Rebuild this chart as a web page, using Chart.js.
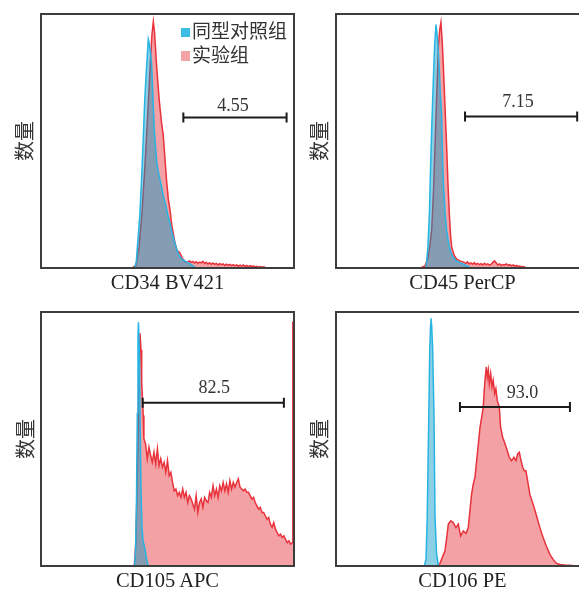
<!DOCTYPE html>
<html><head><meta charset="utf-8">
<script src="https://cdn.jsdelivr.net/npm/chart.js@4"></script>
<style>
html,body{margin:0;padding:0;background:#fff;}
body{width:579px;height:590px;overflow:hidden;position:relative;}
canvas{position:absolute;}
.xl{position:absolute;font-family:"Liberation Serif","Times New Roman",serif;font-size:20.5px;line-height:20.5px;color:#222;white-space:nowrap;transform:translateX(-50%);}
.yl{position:absolute;font-family:"Noto Sans CJK SC",sans-serif;font-size:20px;line-height:20px;color:#333;white-space:nowrap;transform:translate(-50%,-50%) rotate(-90deg);}
.lg{position:absolute;font-family:"Noto Sans CJK SC",sans-serif;font-size:19px;line-height:19px;color:#333;white-space:nowrap;}
.sw{position:absolute;width:9.5px;height:9.5px;}
</style>
</head><body>
<script>
// ---- data (channel units 0..150, counts as % of panel max) ----
const panelTitles = ['CD34 BV421', 'CD45 PerCP', 'CD105 APC', 'CD106 PE'];
const yTitle = '数量';
const legendLabels = ['同型对照组', '实验组'];

const cd34IsoX = [55.5,56.5,57.3,58.5,59.5,60.5,61.5,62.5,63.6,64.3,65,65.6,66.4,67.2,68,68.6,69.5,70.5,71.5,72.5,73.5,74.5,75.5,76.5,77.5,78.5,79.4,80.4,81.4,82.4,83.5,84.5,86,87.3,88.5,89.3,90.5,92];
const cd34IsoY = [0,2.5,9.7,20,33,49,66,78,90,88,84,80,67,54,47,42,38,35,32,28.5,26,23,20,17.5,14.5,12,9.8,7.5,5.6,4.4,3.5,3.1,2.5,2,1.6,1.2,0.6,0];
const cd34ExpX = [54,56.3,58.1,59.9,61.6,63.4,64.9,65.8,66.6,67.3,68.6,70.1,71.5,72.5,73.5,74.5,75.5,76.5,77.5,78.4,79.4,80.6,82.4,83.6,85.4,86.5,
  87,88,89,90,91,92,93,94,95,96,97,98,99,100,101,102,103,104,105,106,107,108,109,110,111,112,113,114,115,116,117,118,119,120,121,122,123,124,125,126,127,128,129,130,131,132,133,134];
const cd34ExpY = [0,1,8,22,40,62,82,92,97,93,79,66,57,52,43,34,27,22.8,17,13.8,10,7,5.9,4,2.5,2.2,
  2.4,2.8,2.2,2.6,2,2.5,1.8,2.3,2,2.6,1.8,2.2,1.6,2.1,1.5,2,1.4,1.8,1.2,1.7,1.3,1.6,1,1.5,1.1,1.4,0.9,1.3,0.8,1.2,0.7,1.1,0.8,1.2,0.6,1,0.5,0.9,0.6,0.8,0.4,0.7,0.3,0.6,0.3,0.5,0.2,0];

const cd45IsoX = [53.4,54.5,55.4,56.1,56.9,57.7,58.5,59.3,60.2,61.1,61.9,62.6,63.1,63.6,64.6,65.6,67,68.2,69.5,71.1,72.9,75.3,77.7,80];
const cd45IsoY = [0,8.3,22,40.6,58,73.8,88,95.8,90,80,68,60.6,45,34.4,22,14.7,9,6,4.3,3,2.2,1.6,0.8,0];
const cd45ExpX = [50,52.8,54.5,55.7,56.7,57.8,58.7,59.7,60.7,61.5,62.2,62.9,63.6,64.6,65.6,66.4,67.2,67.9,68.6,70,71.6,73.5,75.3,
  76,77,78,79,80,81,82,83,84,85,86,87,88,89,90,91,92,93,94,95,96,97,98,99,100,101,102,103,104,105,106,107,108,109,110,111,112,113];
const cd45ExpY = [0,0.8,4,9,14.7,30,47.6,68,87,94,96.7,90,80.3,64,47.6,33,21.3,13,8.3,5,3.5,2.8,2.4,
  2.2,1.8,2.4,1.6,2,1.5,2.1,1.4,1.8,1.3,1.7,1.2,1.9,1.3,1.6,1.1,1.5,2.2,2.8,2,1.2,1.6,1,1.4,1.2,1.6,1.1,1.3,0.8,1.2,0.7,1,0.6,0.8,0.4,0.6,0.3,0];

const cd105IsoX = [55.4,56,56.6,57.1,57.5,57.8,58.3,58.8,59.3,59.9,60.5,61.7,62.5,63.4,64];
const cd105IsoY = [0,5,25,60,90,96,85,55,30,15,10,6.5,3,0.5,0];
const cd105ExpX = [55.3,56.3,57.2,58.1,58.7,59.3,59.7,60.2,60.6,
  61,62,63,64,65,66,67,68,69,70,71,72,73,74,75,76,77,78,79,80,81,82,83,84,85,86,87,88,89,90,
  91,92,93,94,95,96,97,98,99,100,101,102,103,104,105,106,107,108,109,110,111,112,113,114,115,116,117,118,119,120,
  121,122,123,124,125,126,127,128,129,130,131,132,133,134,135,136,137,138,139,140,141,142,143,144,145,146,147,148,149,
  149.3,150];
const cd105ExpY = [0,10,40,75,91.6,85,72.5,65,59.3,
  50.1,48.1,42.2,46.8,43.5,40.8,44.8,40.2,46.1,39.5,42.2,38.9,40.8,36.9,41.5,35.6,36.9,32.9,29.6,30.3,
  27.7,29.0,27.0,30.3,27.0,29.0,25.0,27.7,26.4,24.4,22.4,27.7,21.1,25.0,26.4,23.1,27.0,25.7,25.0,29.0,
  27.0,31.6,27.7,30.3,27.0,31.6,29.6,32.9,29.6,32.3,29.0,33.6,30.3,32.9,31.0,32.9,34.3,31.0,30.3,29.6,
  30.3,29.0,29.0,27.7,26.4,27.0,25.0,23.7,22.4,23.1,21.1,21.1,19.8,18.4,19.1,16.5,15.2,17.1,14.5,13.2,
  11.9,12.5,11.2,11.9,10.5,9.2,9.9,8.6,9.2,
  96,96];

const cd106IsoX = [52.5,53.4,54.1,55,55.6,56.1,56.3,56.7,57.3,58.1,58.7,59.6,60.6,61.6];
const cd106IsoY = [0,3,19.8,59,85.6,95,97.5,95,85.6,59,19.8,5,0.5,0];
const cd106ExpX = [59.9,61.6,63.1,64.6,65.6,66.6,68,69.5,71.1,72.5,73.9,75.5,77.1,78.4,79.4,80.4,81.4,82.4,83.4,84.4,85.4,86.4,87.3,87.9,88.5,89.1,89.7,90.3,90.9,91.7,92.5,93.2,94.1,94.8,95.6,96.8,97.6,98.8,100.2,101.5,102.7,104.1,105.5,106.7,107.7,108.7,109.7,110.7,111.6,112.6,113.6,115,117,119,120.9,122.9,124.9,126.9,128.8,130.8,132.8,135.7,138.7,141.7];
const cd106ExpY = [0,1,3.5,5.9,11,16.5,17.8,17.1,15.1,16.5,11.9,13.8,12.8,15.1,21.7,28.3,32.3,34.9,41.5,48.1,54.7,58.6,62.6,69.2,74.4,78.4,74.4,77.1,71.8,75.8,70.5,73.1,67.9,69.8,65.2,62.6,54.7,50.7,48.1,45.5,42.8,41.5,42.8,41.5,44.1,44.8,41.5,38.9,37.5,37.5,33.6,28,24,19.5,15,11,7.5,4.5,2.5,1,0.6,0.4,0.3,0];

const gateFrom = [84.4, 76.5, 60.3, 73.5];
const gateTo = [145.6, 143, 144, 138.7];
const gateLevel = [59.3, 59.6, 64.3, 62.6];
const gateLabels = ['4.55', '7.15', '82.5', '93.0'];

// ---- layout / style ----
const panels = [
  {left:41, top:14, iso:[cd34IsoX,cd34IsoY], exp:[cd34ExpX,cd34ExpY], dx:-2, rise:6.5, ylx:24},
  {left:336, top:14, iso:[cd45IsoX,cd45IsoY], exp:[cd45ExpX,cd45ExpY], dx:-3, rise:9.5, ylx:319},
  {left:41, top:312, iso:[cd105IsoX,cd105IsoY], exp:[cd105ExpX,cd105ExpY], dx:1, rise:9.5, ylx:25},
  {left:336, top:312, iso:[cd106IsoX,cd106IsoY], exp:[cd106ExpX,cd106ExpY], dx:7.5, rise:9, ylx:319}
];
const PW = 253, PH = 254, PAD = 4;
const BLUE_LINE = '#27b4e3', BLUE_FILL = 'rgba(0,150,200,0.45)';
const RED_LINE = '#e8323c', RED_FILL = 'rgba(230,55,62,0.47)';

const gatePlugin = {
  id: 'gate',
  afterDatasetsDraw(chart, args, o) {
    const {ctx, chartArea: a, scales: {x, y}} = chart;
    ctx.save();
    ctx.strokeStyle = '#3d3d3d';
    ctx.lineWidth = 2;
    ctx.strokeRect(a.left, a.top, a.right - a.left, a.bottom - a.top);
    const x1 = x.getPixelForValue(o.from), x2 = x.getPixelForValue(o.to), yy = y.getPixelForValue(o.level);
    ctx.strokeStyle = '#1a1a1a';
    ctx.lineWidth = 2;
    ctx.beginPath();
    ctx.moveTo(x1, yy); ctx.lineTo(x2, yy);
    ctx.moveTo(x1, yy - 5); ctx.lineTo(x1, yy + 5);
    ctx.moveTo(x2, yy - 5); ctx.lineTo(x2, yy + 5);
    ctx.stroke();
    ctx.font = '18px "Liberation Serif", "Times New Roman", serif';
    ctx.fillStyle = '#333';
    ctx.textAlign = 'center';
    ctx.textBaseline = 'alphabetic';
    ctx.fillText(o.label, (x1 + x2) / 2 + o.dx, yy - o.rise);
    ctx.restore();
  }
};

function pts(xs, ys) { return xs.map((v, i) => ({x: v, y: ys[i]})); }

panels.forEach((p, i) => {
  const cv = document.createElement('canvas');
  cv.width = PW + 2 * PAD; cv.height = PH + 2 * PAD;
  cv.style.left = (p.left - PAD) + 'px'; cv.style.top = (p.top - PAD) + 'px';
  cv.style.width = cv.width + 'px'; cv.style.height = cv.height + 'px';
  document.body.appendChild(cv);
  new Chart(cv, {
    type: 'line',
    data: {
      datasets: [
        {label: legendLabels[0], data: pts(p.iso[0], p.iso[1]), borderColor: BLUE_LINE, backgroundColor: BLUE_FILL, borderWidth: 1.5, fill: 'origin'},
        {label: legendLabels[1], data: pts(p.exp[0], p.exp[1]), borderColor: RED_LINE, backgroundColor: RED_FILL, borderWidth: 1.5, fill: 'origin'}
      ]
    },
    options: {
      responsive: false, animation: false, events: [],
      layout: {padding: PAD},
      elements: {point: {radius: 0}, line: {tension: 0}},
      plugins: {
        legend: {display: false}, tooltip: {enabled: false},
        gate: {from: gateFrom[i], to: gateTo[i], level: gateLevel[i], label: gateLabels[i], dx: p.dx, rise: p.rise}
      },
      scales: {
        x: {type: 'linear', min: 0, max: 150, display: false},
        y: {min: 0, max: 100, display: false}
      }
    },
    plugins: [gatePlugin]
  });
  const xl = document.createElement('div');
  xl.className = 'xl'; xl.textContent = panelTitles[i];
  xl.style.left = (p.left + PW / 2) + 'px'; xl.style.top = (p.top + PH + 3.5) + 'px';
  document.body.appendChild(xl);
  const yl = document.createElement('div');
  yl.className = 'yl'; yl.textContent = yTitle;
  yl.style.left = p.ylx + 'px'; yl.style.top = (p.top + PH / 2) + 'px';
  document.body.appendChild(yl);
});

// legend inside first panel
[[BLUE_LINE, 27.5, 20], ['#f4a3a6', 51, 44]].forEach((r, k) => {
  const sw = document.createElement('div');
  sw.className = 'sw'; sw.style.background = k === 0 ? '#3bbde6' : r[0];
  sw.style.left = '180.5px'; sw.style.top = r[1] + 'px';
  document.body.appendChild(sw);
  const t = document.createElement('div');
  t.className = 'lg'; t.textContent = legendLabels[k];
  t.style.left = '192px'; t.style.top = r[2] + 'px';
  document.body.appendChild(t);
});
</script>
</body></html>
